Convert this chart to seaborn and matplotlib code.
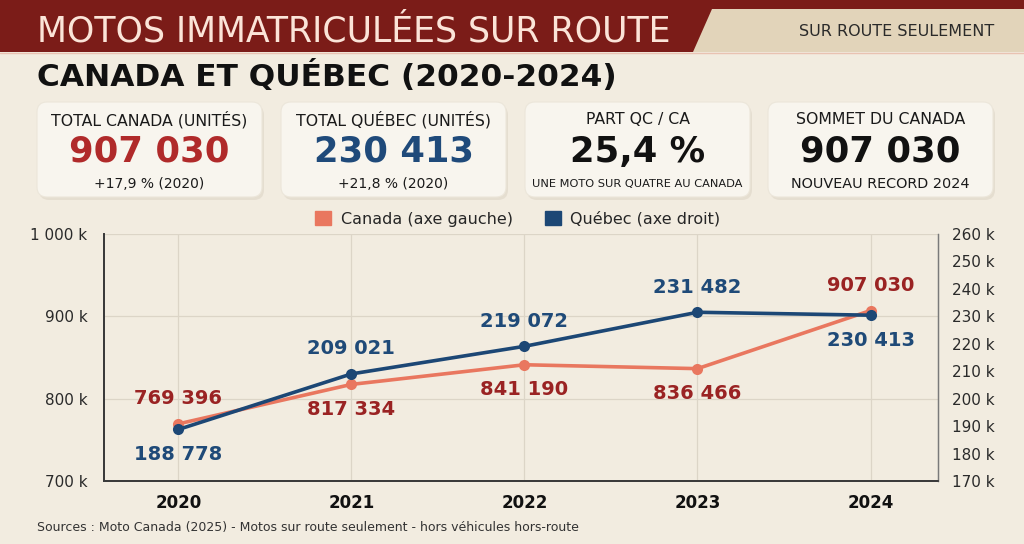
import numpy as np
import pandas as pd
import matplotlib
matplotlib.use("Agg")
import matplotlib.pyplot as plt
import seaborn as sns
from matplotlib.patches import FancyBboxPatch, Polygon, Rectangle, Patch

# %%

years = [2020, 2021, 2022, 2023, 2024]
canada = [769396, 817334, 841190, 836466, 907030]
quebec = [188778, 209021, 219072, 231482, 230413]

left_ticks = [700000, 800000, 900000, 1000000]
right_ticks = [170000, 180000, 190000, 200000, 210000, 220000, 230000, 240000, 250000, 260000]

cards = [
    ("TOTAL CANADA (UNITÉS)", "907 030", "+17,9 % (2020)"),
    ("TOTAL QUÉBEC (UNITÉS)", "230 413", "+21,8 % (2020)"),
    ("PART QC / CA", "25,4 %", "UNE MOTO SUR QUATRE AU CANADA"),
    ("SOMMET DU CANADA", "907 030", "NOUVEAU RECORD 2024"),
]

# label side: 1 above the point, -1 below
canada_side = [1, -1, -1, -1, 1]
quebec_side = [-1, 1, 1, 1, -1]

df = pd.DataFrame({"annee": years, "Canada": canada, "Québec": quebec})

# %%

BG = "#f2ece0"
RED_HEAD = "#7b1c18"
TAB = "#e2d4ba"
CA_LINE = "#e9775f"
CA_TXT = "#9a2323"
QC_LINE = "#1c4775"
QC_TXT = "#1f4a78"
CARD = "#f8f5ee"

sns.set_theme(style="white")
plt.rcParams["font.family"] = ["DejaVu Sans"]

W, H = 1024, 544
fig = plt.figure(figsize=(W / 100, H / 100), dpi=100, facecolor=BG)

# pixel canvas for header, cards and notes
bg = fig.add_axes([0, 0, 1, 1], zorder=0)
bg.set_xlim(0, W)
bg.set_ylim(H, 0)
bg.axis("off")

bg.add_patch(Rectangle((0, 0), W, 52, color=RED_HEAD, lw=0))
bg.add_patch(Polygon([(712, 9), (W, 9), (W, 52), (693, 52)], closed=True, color=TAB, lw=0))
bg.plot([0, W], [52.5, 52.5], color="#e9c2b2", lw=1)
bg.text(37, 31, "MOTOS IMMATRICULÉES SUR ROUTE", color="#fbe4d8", fontsize=25,
        va="center", ha="left")
bg.text(897, 32, "SUR ROUTE SEULEMENT", color="#2a2a2a", fontsize=11.5, va="center", ha="center")
bg.text(37, 76, "CANADA ET QUÉBEC (2020-2024)", color="#111111", fontsize=22.5,
        fontweight="bold", va="center", ha="left")

num_colors = ["#b02a2a", "#1f4a7a", "#111111", "#111111"]
sub_sizes = [10, 10, 8.2, 10.4]
card_x = [37, 281, 525, 768]
for (lab, num, sub), cx, col, ss in zip(cards, card_x, num_colors, sub_sizes):
    bg.add_patch(FancyBboxPatch((cx + 2, 105), 225, 95, boxstyle="round,pad=0,rounding_size=10",
                                fc="#d9d1c2", ec="none", alpha=0.5))
    bg.add_patch(FancyBboxPatch((cx, 102), 225, 95, boxstyle="round,pad=0,rounding_size=10",
                                fc=CARD, ec="#ece6da", lw=0.8))
    mid = cx + 112.5
    bg.text(mid, 120, lab, fontsize=11.3, color="#1a1a1a", ha="center", va="center")
    bg.text(mid, 152, num, fontsize=25.5, fontweight="bold", color=col, ha="center", va="center")
    bg.text(mid, 184, sub, fontsize=ss, color="#1a1a1a", ha="center", va="center")

bg.text(37, 528, "Sources : Moto Canada (2025) - Motos sur route seulement - hors véhicules hors-route",
        fontsize=9, color="#333333", ha="left", va="center")

# %%

ax = fig.add_axes([104 / W, (H - 481) / H, (938 - 104) / W, (481 - 234) / H], zorder=2)
ax.set_facecolor("none")
ax2 = ax.twinx()

sns.lineplot(data=df, x="annee", y="Canada", ax=ax, color=CA_LINE, lw=2.6,
             marker="o", markersize=8, markeredgewidth=0, zorder=3)
sns.lineplot(data=df, x="annee", y="Québec", ax=ax2, color=QC_LINE, lw=2.6,
             marker="o", markersize=8, markeredgewidth=0, zorder=3)

ax.set_xlim(2019.57, 2024.39)
ax.set_ylim(700000, 1000000)
ax2.set_ylim(170000, 260000)

ax.set_xticks(years)
ax.set_xticklabels([str(y) for y in years], fontsize=12, fontweight="bold", color="#111111")
ax.set_yticks(left_ticks)
ax.set_yticklabels([f"{v // 1000:,} k".replace(",", " ") for v in left_ticks], fontsize=11, color="#2a2a2a")
ax2.set_yticks(right_ticks)
ax2.set_yticklabels([f"{v // 1000} k" for v in right_ticks], fontsize=11, color="#2a2a2a")
ax.tick_params(axis="both", length=0)
ax.tick_params(axis="y", pad=12)
ax.tick_params(axis="x", pad=9)
ax2.tick_params(axis="y", length=0, pad=10)
ax.set_xlabel("")
ax.set_ylabel("")
ax2.set_ylabel("")

ax.grid(True, color="#dcd5c7", lw=0.9)
ax2.grid(False)
for a in (ax, ax2):
    a.spines["top"].set_visible(False)
    a.spines["left"].set_color("#3a3a3a")
    a.spines["bottom"].set_color("#3a3a3a")
    a.spines["right"].set_color("#7a7a7a")
    a.spines["left"].set_linewidth(1.3)
    a.spines["bottom"].set_linewidth(1.3)
    a.spines["right"].set_linewidth(0.9)

for x, v, s in zip(years, canada, canada_side):
    ax.annotate(f"{v:,}".replace(",", " "), (x, v), xytext=(0, 25 * s), textcoords="offset pixels",
                ha="center", va="center", fontsize=14, fontweight="bold", color=CA_TXT, zorder=5)
for x, v, s in zip(years, quebec, quebec_side):
    ax2.annotate(f"{v:,}".replace(",", " "), (x, v), xytext=(0, 25 * s), textcoords="offset pixels",
                 ha="center", va="center", fontsize=14, fontweight="bold", color=QC_TXT, zorder=5)

handles = [Patch(color=CA_LINE, label="Canada (axe gauche)"),
           Patch(color=QC_LINE, label="Québec (axe droit)")]
fig.legend(handles=handles, loc="center", bbox_to_anchor=(518 / W, 1 - 219 / H), ncol=2,
           frameon=False, fontsize=11.5, handlelength=1.0, handleheight=1.0,
           columnspacing=2.0, handletextpad=0.6)

fig.savefig("out.png", dpi=100, facecolor=BG)
